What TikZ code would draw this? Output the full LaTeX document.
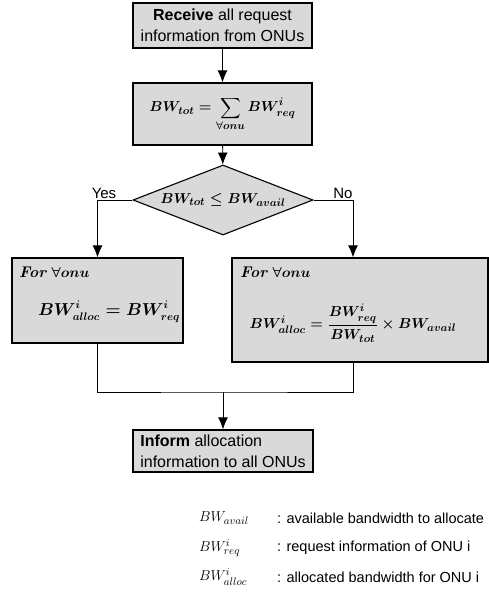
\documentclass[tikz,border=0pt]{standalone}
\usepackage{amsmath}
\usepackage{fontspec}
\setsansfont{Liberation Sans}
\usetikzlibrary{shapes.geometric}
\usetikzlibrary{arrows.meta}
\tikzset{>={Latex[length=12pt,width=10pt]}}
\tikzset{%
  procbox/.style={draw, line width=1.3pt, fill=gray!30, inner sep=0pt},
  decide/.style={diamond, draw, line width=1.1pt, fill=gray!30, inner sep=0pt, aspect=2.5,
    minimum width=180pt, minimum height=70pt},
  boxtext/.style={font=\sffamily\fontsize{16}{21}\selectfont},
  mathtext/.style={font=\boldmath\fontsize{15.5}{20}\selectfont},
  flow/.style={line width=0.9pt},
  answer/.style={font=\sffamily\fontsize{15}{17}\selectfont, inner sep=1pt},
  legendmath/.style={font=\fontsize{15.5}{18}\selectfont, anchor=west, inner sep=0pt},
  legend/.style={font=\sffamily\fontsize{14.5}{17}\selectfont, anchor=west, inner sep=0pt},
}
\begin{document}
\begin{tikzpicture}[x=1pt, y=-1pt]
  \useasboundingbox (0,0) rectangle (489,597);

  % flow chart boxes
  \node[procbox, boxtext, align=center, minimum width=179pt, minimum height=45pt] (receive) at (222.5,25.5)
    {\textbf{Receive} all request\\information from ONUs};
  \node[procbox, mathtext, minimum width=179pt, minimum height=62pt] (total) at (222.5,114)
    {$\displaystyle BW_{tot} = \sum_{\forall onu} BW^{i}_{req}$};
  \node[decide, mathtext] (check) at (223,200) {$BW_{tot} \leq BW_{avail}$};
  \node[procbox, minimum width=171pt, minimum height=85pt] (allocyes) at (97.5,300.5) {};
  \node[procbox, minimum width=256pt, minimum height=104pt] (allocno) at (360,310) {};
  \node[procbox, boxtext, align=left, minimum width=180pt, minimum height=42pt] (inform) at (223,451)
    {\textbf{Inform} allocation\\information to all ONUs};

  % texts inside the two allocation boxes
  \node[mathtext, anchor=west, inner sep=0pt] (foryes) at (19,272) {\textbf{\textit{For}} $\forall onu$};
  \node[mathtext, font=\boldmath\fontsize{16}{20}\selectfont] (eqyes) at (109,312)
    {$BW^{i}_{alloc} = BW^{i}_{req}$};
  \node[mathtext, anchor=west, inner sep=0pt] (forno) at (240,272) {\textbf{\textit{For}} $\forall onu$};
  \node[mathtext, font=\boldmath\fontsize{15}{20}\selectfont] (eqno) at (353,323)
    {$BW^{i}_{alloc} = \dfrac{BW^{i}_{req}}{BW_{tot}} \times BW_{avail}$};

  % connectors
  \coordinate (merge) at (223,392);
  \draw[flow, ->] (receive) -- (total);
  \draw[flow, ->] (total) -- (check);
  \draw[flow, ->] (check.west) -| (allocyes.north);
  \draw[flow, ->] (check.east) -| ([xshift=-7pt]allocno.north);
  \draw[flow] (allocyes.south) |- (merge) -| ([xshift=-7pt]allocno.south);
  \draw[flow, ->] (merge) -- (inform);

  % branch labels
  \node[answer, anchor=south] (yes) at (104,200) {Yes};
  \node[answer, anchor=south] (no) at (343,200) {No};

  % legend
  \node[legendmath] (avail) at (199,518) {$BW_{avail}$};
  \node[legendmath] (req) at (199,548) {$BW^{i}_{req}$};
  \node[legendmath] (alloc) at (199,577) {$BW^{i}_{alloc}$};
  \node[legend] (availtext) at (277,518) {: available bandwidth to allocate};
  \node[legend] (reqtext) at (277,548) {: request information of ONU i};
  \node[legend] (alloctext) at (277,577) {: allocated bandwidth for ONU i};
\end{tikzpicture}
\end{document}
